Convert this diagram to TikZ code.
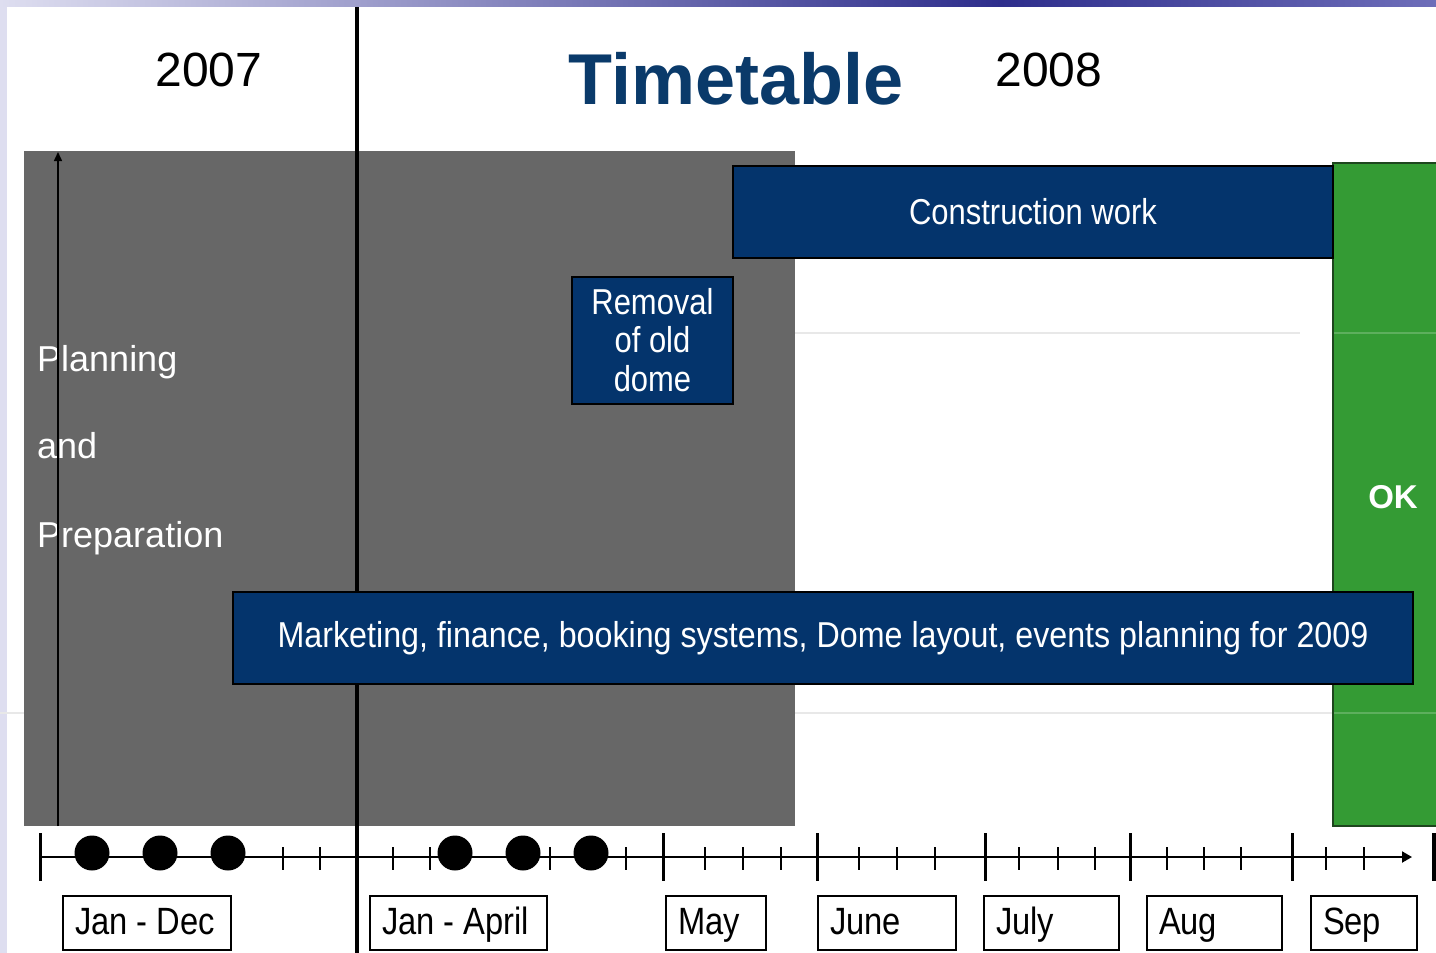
\documentclass[tikz,border=0pt]{standalone}
\usepackage{fontspec}
\setmainfont{Liberation Sans}
\newfontfamily\condfont{Liberation Sans}[FakeStretch=0.86]
\newfontfamily\markfont{Liberation Sans}[FakeStretch=0.895]
\usetikzlibrary{arrows.meta}
\definecolor{boxblue}{RGB}{4,52,108}
\definecolor{titleblue}{RGB}{10,58,106}
\definecolor{okgreen}{RGB}{52,155,52}
\definecolor{okedge}{RGB}{30,70,30}
\definecolor{panelgray}{RGB}{103,103,103}
\definecolor{lav}{RGB}{222,222,240}
\definecolor{barblue}{RGB}{46,46,140}
\definecolor{barright}{RGB}{110,110,185}
\definecolor{faint}{RGB}{232,232,232}
\begin{document}
\begin{tikzpicture}[x=1pt,y=-1pt,
  bluebox/.style={draw=black, line width=2pt, fill=boxblue, text=white,
    font=\condfont\fontsize{36}{38.5}\selectfont, inner sep=0pt, align=center},
  monthbox/.style={draw=black, line width=2pt, fill=white, anchor=west,
    inner xsep=12pt, inner ysep=0pt, minimum height=54pt,
    text height=29pt, text depth=6pt,
    font=\condfont\fontsize{38}{40}\selectfont},
  yearlbl/.style={anchor=base, font=\fontsize{48}{50}\selectfont},
  sidelbl/.style={anchor=base west, text=white, font=\fontsize{36}{38}\selectfont, inner sep=0pt},
  majortick/.style={line width=3pt},
  minortick/.style={line width=1.5pt},
  dotmark/.style={fill=black}
]
\useasboundingbox (0,0) rectangle (1436,953);
\fill[white] (0,0) rectangle (1436,953);
% decorative frame
\fill[lav] (0,0) rectangle (7,953);
\shade[left color=lav, right color=barblue] (0,0) rectangle (1000,6);
\shade[left color=barblue, right color=barright] (1000,0) rectangle (1436,6);

% headings
\node[yearlbl] (y2007) at (209,86) {2007};
\node[yearlbl] (y2008) at (1049,86) {2008};
\node[anchor=base, text=titleblue, font=\bfseries\fontsize{72}{74}\selectfont] (title) at (736,104) {Timetable};

% panels
\fill[panelgray] (24,151) rectangle (795,826);
\draw[faint, line width=2pt] (795,333) -- (1300,333);
\draw[faint, line width=2pt] (0,713) -- (24,713);
\draw[faint, line width=2pt] (795,713) -- (1333,713);
\filldraw[fill=okgreen, draw=okedge, line width=1.5pt] (1333,163) rectangle (1445,826);
\draw[okgreen!80!white, line width=1.5pt] (1334,333) -- (1436,333);
\draw[okgreen!80!white, line width=1.5pt] (1334,713) -- (1436,713);
\node[text=white, font=\bfseries\fontsize{33}{35}\selectfont] (ok) at (1393,497) {OK};

% planning text and arrow
\node[sidelbl] (plan) at (37,371) {Planning};
\node[sidelbl] (and) at (37,458) {and};
\node[sidelbl] (prep) at (37,547) {Preparation};
\coordinate (arrbot) at (58,826);
\coordinate (arrtop) at (58,152);
\draw[line width=1.5pt, -{Triangle[length=9pt,width=8pt]}] (arrbot) -- (arrtop);

% year divider
\coordinate (divtop) at (357,7);
\coordinate (divbot) at (357,953);
\draw[line width=4pt] (divtop) -- (divbot);

% activity boxes
\node[bluebox, minimum width=600pt, minimum height=92pt] (constr) at (1033,212) {Construction work};
\node[bluebox, minimum width=161pt, minimum height=127pt, text depth=2pt] (removal) at (652.5,340.5) {Removal\\of old\\dome};
\node[bluebox, minimum width=1180pt, minimum height=92pt, font=\markfont\fontsize{36}{38.5}\selectfont] (market) at (823,638) {Marketing, finance, booking systems, Dome layout, events planning for 2009};

% timeline
\coordinate (tlstart) at (40,857);
\coordinate (tlend) at (1412,857);
\draw[line width=2pt, -{Triangle[length=10pt,width=11pt]}] (tlstart) -- (tlend);
\foreach \x in {40,663,817,985,1130,1292}
  \draw[majortick] (\x,833) -- (\x,881);
\draw[line width=4pt] (1434,833) -- (1434,881);
\foreach \x in {283,320,393,430,550,626,705,743,781,859,897,935,1019,1058,1095,1167,1204,1241,1326,1364}
  \draw[minortick] (\x,847) -- (\x,870);
\foreach \x in {92,160,228,455,523,591}
  \fill[dotmark] (\x,853) circle[radius=17.5pt];

% month labels
\node[monthbox] (m1) at (62,923) {\makebox[144pt][l]{Jan - Dec}};
\node[monthbox] (m2) at (369,923) {\makebox[153pt][l]{Jan - April}};
\node[monthbox] (m3) at (665,923) {\makebox[76pt][l]{May}};
\node[monthbox] (m4) at (817,923) {\makebox[114pt][l]{June}};
\node[monthbox] (m5) at (983,923) {\makebox[111pt][l]{July}};
\node[monthbox] (m6) at (1146,923) {\makebox[111pt][l]{Aug}};
\node[monthbox] (m7) at (1310,923) {\makebox[82pt][l]{Sep}};
\end{tikzpicture}
\end{document}
